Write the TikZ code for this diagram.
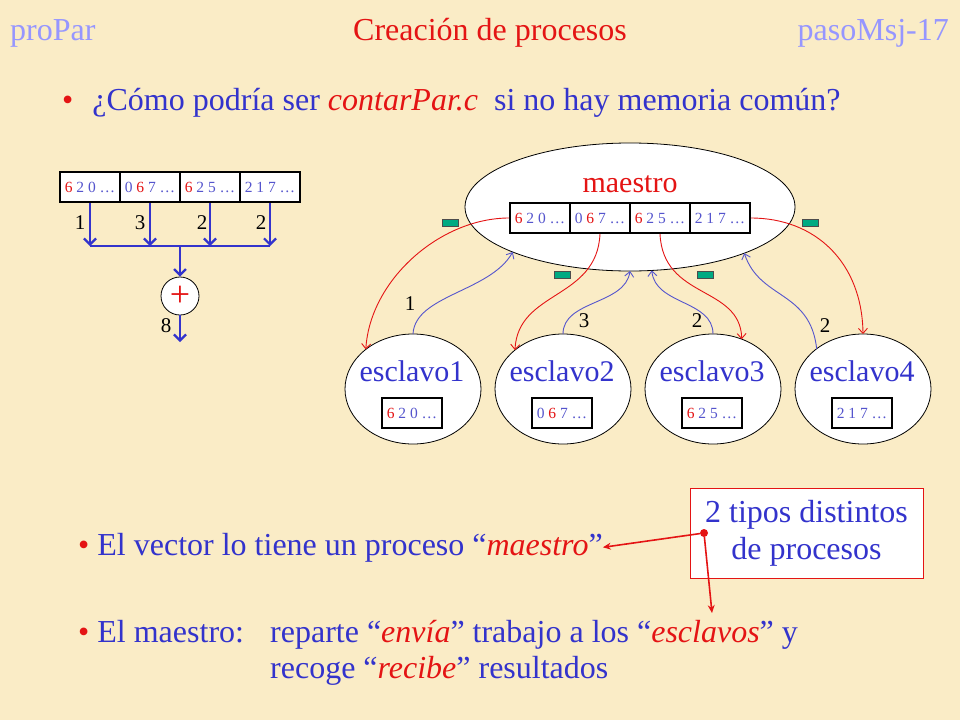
\documentclass[tikz,border=0pt]{standalone}
\usepackage{fontspec}
\setmainfont{Liberation Serif}
\usetikzlibrary{shapes.geometric,arrows.meta}
\definecolor{bg}{RGB}{250,236,198}
\definecolor{tred}{RGB}{228,20,20}
\definecolor{tblue}{RGB}{51,51,204}
\definecolor{hblue}{RGB}{150,150,255}
\definecolor{cblue}{RGB}{85,85,205}
\definecolor{gr}{RGB}{0,170,130}
\newcommand{\R}[1]{\textcolor{tred}{#1}}
\newcommand{\fsz}[1]{\fontsize{#1}{#1}\selectfont}
\begin{document}
\begin{tikzpicture}[x=1pt,y=-1pt,
  cell/.style={draw=black, line width=1.6pt, fill=white, minimum width=60pt, minimum height=30pt, inner sep=0pt, font=\fsz{15.5}, text=cblue},
  bigtxt/.style={font={\fontsize{32}{37}\selectfont}, text=tblue, inner sep=0pt},
  numlbl/.style={font=\fsz{21}, text=black, inner sep=0pt},
  sl/.style={ellipse, draw=black, line width=0.8pt, fill=white, minimum width=136pt, minimum height=110pt, inner sep=0pt, outer sep=0pt},
  sltxt/.style={font=\fsz{30}, text=tblue, anchor=base, inner sep=0pt},
  greenbox/.style={draw=black!70, line width=0.5pt, fill=gr, minimum width=16pt, minimum height=7pt, inner sep=0pt},
  barrow/.style={draw=tblue, line width=2.2pt, -{Straight Barb[length=6pt,width=12pt,line width=2.2pt]}},
  bline/.style={draw=tblue, line width=2.2pt},
  rcurve/.style={draw=tred, line width=0.9pt, -{Straight Barb[length=5pt,width=9pt]}},
  bcurve/.style={draw=cblue, line width=0.9pt, -{Straight Barb[length=5pt,width=9pt]}},
  rarrow/.style={draw=tred, line width=1.6pt, -{Stealth[length=8pt,width=7pt]}}
]
\useasboundingbox (0,0) rectangle (960,720);
\fill[bg] (0,0) rectangle (960,720);

% header
\node[anchor=base west, font=\fsz{32}, text=hblue, inner sep=0pt] (pp) at (10,40) {proPar};
\node[anchor=base, font=\fsz{32}, text=tred, inner sep=0pt] (tt) at (490,40) {Creación de procesos};
\node[anchor=base east, font=\fsz{32}, text=hblue, inner sep=0pt] (pm) at (949,40) {pasoMsj-17};

% question
\node[bigtxt, anchor=base west] (q) at (62,110) {\R{•}\hspace{19pt}¿Cómo podría ser \R{\textit{contarPar.c}}\ \ si no hay memoria común?};

% left diagram
\node[cell] (c1) at (90,187) {\R{6} 2 0 …};
\node[cell] (c2) at (150,187) {0 \R{6} 7 …};
\node[cell] (c3) at (210,187) {\R{6} 2 5 …};
\node[cell] (c4) at (270,187) {2 1 7 …};
\coordinate (j1) at (90,246);
\coordinate (j2) at (150,246);
\coordinate (j3) at (210,246);
\coordinate (j4) at (270,246);
\coordinate (jm) at (180,246);
\draw[barrow] (c1.south) -- (j1);
\draw[barrow] (c2.south) -- (j2);
\draw[barrow] (c3.south) -- (j3);
\draw[barrow] (c4.south) -- (j4);
\draw[bline] (j1) -- (j4);
\node[circle, draw=black, line width=0.8pt, fill=white, minimum size=38pt, inner sep=0pt, font=\fsz{36}, text=tred] (plus) at (180,296) {+};
\draw[barrow] (jm) -- (plus.north);
\coordinate (out) at (180,342);
\draw[barrow] (plus.south) -- (out);
\node[numlbl] (n1) at (80,223) {1};
\node[numlbl] (n2) at (140,223) {3};
\node[numlbl] (n3) at (202,223) {2};
\node[numlbl] (n4) at (261,223) {2};
\node[numlbl] (n8) at (166,326) {8};

% maestro
\node[ellipse, draw=black, line width=0.8pt, fill=white, minimum width=330pt, minimum height=128pt, inner sep=0pt, outer sep=0pt] (ma) at (630,207) {};
\node[font=\fsz{30}, text=tred, anchor=base, inner sep=0pt] (mat) at (630,192) {maestro};
\node[cell] (m1) at (540,218) {\R{6} 2 0 …};
\node[cell] (m2) at (600,218) {0 \R{6} 7 …};
\node[cell] (m3) at (660,218) {\R{6} 2 5 …};
\node[cell] (m4) at (720,218) {2 1 7 …};

% esclavos
\node[sl] (e1) at (413,389) {};
\node[sl] (e2) at (563,389) {};
\node[sl] (e3) at (713,389) {};
\node[sl] (e4) at (863,389) {};
\node[sltxt] (e1t) at (412,381) {esclavo1};
\node[sltxt] (e2t) at (562,381) {esclavo2};
\node[sltxt] (e3t) at (712,381) {esclavo3};
\node[sltxt] (e4t) at (862,381) {esclavo4};
\node[cell] (b1) at (412,413) {\R{6} 2 0 …};
\node[cell] (b2) at (562,413) {0 \R{6} 7 …};
\node[cell] (b3) at (712,413) {\R{6} 2 5 …};
\node[cell] (b4) at (862,413) {2 1 7 …};

% green messages
\node[greenbox] (g1) at (450,222.5) {};
\node[greenbox] (g2) at (562.5,274.5) {};
\node[greenbox] (g3) at (705,274.5) {};
\node[greenbox] (g4) at (810.5,222.5) {};

% send (red)
\draw[rcurve] (m1.west) .. controls (440,218) and (370,280) .. (e1.140);
\draw[rcurve] (m2.south) .. controls (597,300) and (518,290) .. (e2.141);
\draw[rcurve] (m3.south) .. controls (663,300) and (740,285) .. (e3.60);
\draw[rcurve] (m4.east) .. controls (815,218) and (862,262) .. (e4.north);

% receive (blue)
\draw[bcurve] (e1.north) .. controls (415,295) and (490,292) .. (ma.201);
\draw[bcurve] (e2.north) .. controls (563,300) and (625,305) .. (ma.south);
\draw[bcurve] (e3.north) .. controls (713,300) and (655,305) .. (ma.289);
\draw[bcurve] (e4.139) .. controls (810,290) and (760,300) .. (ma.338);

\node[numlbl] (r1) at (410,304) {1};
\node[numlbl] (r2) at (584,321) {3};
\node[numlbl] (r3) at (697,321) {2};
\node[numlbl] (r4) at (825,326) {2};

% bottom text
\node[bigtxt, anchor=base west] (l1) at (78,555) {\R{•} El vector lo tiene un proceso “\R{\textit{maestro}}”};
\node[bigtxt, anchor=base west] (l2) at (78,642) {\R{•} El maestro:};
\node[bigtxt, anchor=base west] (l3) at (270,642) {reparte “\R{\textit{envía}}” trabajo a los “\R{\textit{esclavos}}” y};
\node[bigtxt, anchor=base west] (l4) at (270,678) {recoge “\R{\textit{recibe}}” resultados};

\node[draw=tred, line width=1pt, fill=white, minimum width=233pt, minimum height=90pt, align=center, font={\fontsize{32}{37}\selectfont}, text=tblue, inner sep=0pt] (tipos) at (806.5,533) {2 tipos distintos\\de procesos};
\node[circle, fill=tred, minimum size=8pt, inner sep=0pt] (dot) at (704,533) {};
\coordinate (dtip) at (712,613);
\draw[rarrow] (dot) -- (l1.east);
\draw[rarrow] (dot) -- (dtip);
\end{tikzpicture}
\end{document}
